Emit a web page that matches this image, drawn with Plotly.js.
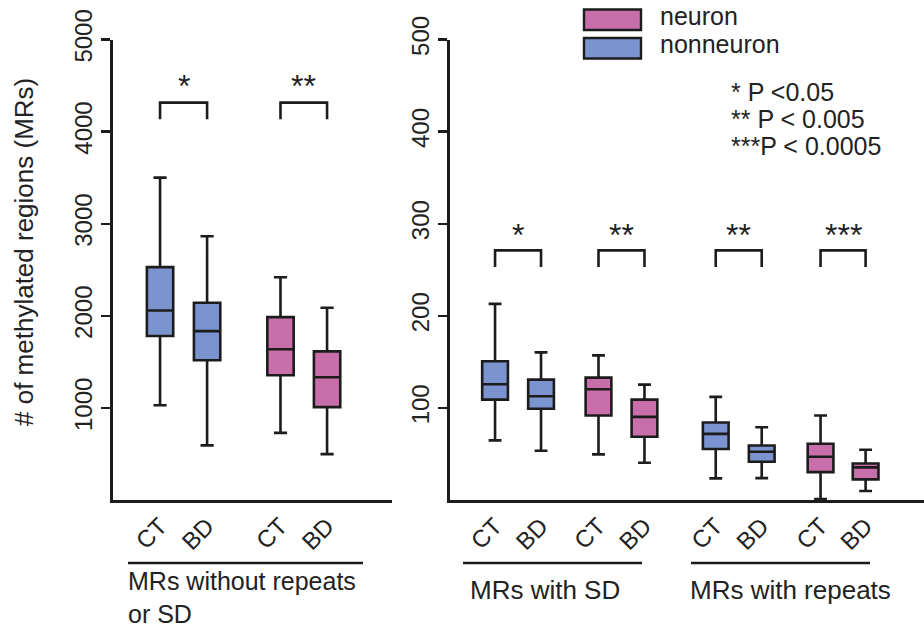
<!DOCTYPE html>
<html>
<head>
<meta charset="utf-8">
<script src="https://cdn.plot.ly/plotly-3.0.1.min.js"></script>
<style>html,body{margin:0;padding:0;background:#fff;} #chart{width:924px;height:632px;}</style>
</head>
<body>
<div id="chart"></div>
<script>
// ---------- data ----------
const leftTickLabels = ['CT', 'BD', 'CT', 'BD'];
const leftPos = [1, 2, 3.56, 4.55];
const leftNonPos = [1, 2];
const leftNeuPos = [3.56, 4.55];
const leftNonLower = [1029, 593];
const leftNonQ1 = [1780, 1517];
const leftNonMed = [2058, 1834];
const leftNonQ3 = [2528, 2142];
const leftNonUpper = [3500, 2863];
const leftNeuLower = [729, 498];
const leftNeuQ1 = [1354, 1008];
const leftNeuMed = [1636, 1333];
const leftNeuQ3 = [1986, 1614];
const leftNeuUpper = [2419, 2088];

const rightTickLabels = ['CT', 'BD', 'CT', 'BD', 'CT', 'BD', 'CT', 'BD'];
const rightPos = [1, 2, 3.25, 4.25, 5.8, 6.8, 8.08, 9.06];
const rightNonPos = [1, 2, 5.8, 6.8];
const rightNeuPos = [3.25, 4.25, 8.08, 9.06];
const rightNonLower = [64.7, 53.4, 23.5, 23.8];
const rightNonQ1 = [109, 99, 55.3, 41.5];
const rightNonMed = [125.7, 112.7, 71.8, 52.4];
const rightNonQ3 = [150.6, 130.7, 84.2, 59.2];
const rightNonUpper = [213, 160.3, 112, 79];
const rightNeuLower = [49.5, 40.4, 1, 9.8];
const rightNeuQ1 = [91.8, 68.6, 30.3, 22.4];
const rightNeuMed = [120.3, 90.3, 47, 35.4];
const rightNeuQ3 = [132.9, 109, 61, 39.7];
const rightNeuUpper = [157, 125.3, 91.7, 54.5];

const leftYTicks = [1000, 2000, 3000, 4000, 5000];
const rightYTicks = [100, 200, 300, 400, 500];

const leftSig = [{a: 1, b: 2, label: '*'}, {a: 3.56, b: 4.55, label: '**'}];
const rightSig = [{a: 1, b: 2, label: '*'}, {a: 3.25, b: 4.25, label: '**'},
                  {a: 5.8, b: 6.8, label: '**'}, {a: 8.08, b: 9.06, label: '***'}];

const legendNames = ['neuron', 'nonneuron'];
const pLegend = ['* P <0.05', '** P < 0.005', '***P < 0.0005'];
const groupLabels = ['MRs without repeats<br>or SD', 'MRs with SD', 'MRs with repeats'];
const yTitle = '# of methylated regions (MRs)';

// ---------- style ----------
const BLUE = '#7B94CF';
const PINK = '#C86FAB';
const INK = '#1c1c1c';
const TXT = '#222222';
const FONT = 'Liberation Sans, Arial, sans-serif';
const W = 924, H = 632;
const px = v => v / W;
const py = v => (H - v) / H;

function boxTrace(x, lo, q1, med, q3, hi, color, xa, ya) {
  return {
    type: 'box', x: x, lowerfence: lo, q1: q1, median: med, q3: q3, upperfence: hi,
    fillcolor: color, line: {color: INK, width: 2.6}, width: 0.56, whiskerwidth: 0.5,
    boxpoints: false, xaxis: xa, yaxis: ya, showlegend: false, hoverinfo: 'skip'
  };
}

const data = [
  boxTrace(leftNonPos, leftNonLower, leftNonQ1, leftNonMed, leftNonQ3, leftNonUpper, BLUE, 'x', 'y'),
  boxTrace(leftNeuPos, leftNeuLower, leftNeuQ1, leftNeuMed, leftNeuQ3, leftNeuUpper, PINK, 'x', 'y'),
  boxTrace(rightNonPos, rightNonLower, rightNonQ1, rightNonMed, rightNonQ3, rightNonUpper, BLUE, 'x2', 'y2'),
  boxTrace(rightNeuPos, rightNeuLower, rightNeuQ1, rightNeuMed, rightNeuQ3, rightNeuUpper, PINK, 'x2', 'y2')
];

const shapes = [];
const annotations = [];

function addSig(list, xref, yref, yTop, yLeg, yStar) {
  list.forEach(s => {
    shapes.push({type: 'path', xref: xref, yref: yref,
      path: `M ${s.a},${yLeg} L ${s.a},${yTop} L ${s.b},${yTop} L ${s.b},${yLeg}`,
      line: {color: INK, width: 2.6}});
    annotations.push({xref: xref, yref: yref, x: (s.a + s.b) / 2, y: yStar, text: s.label,
      showarrow: false, font: {family: FONT, size: 32, color: TXT}, xanchor: 'center', yanchor: 'middle'});
  });
}
addSig(leftSig, 'x', 'y', 4315, 4135, 4500);
addSig(rightSig, 'x2', 'y2', 271, 253, 288);

// group underlines
shapes.push({type: 'line', xref: 'paper', yref: 'paper', x0: px(128), x1: px(363), y0: py(563), y1: py(563), line: {color: INK, width: 2.6}});
shapes.push({type: 'line', xref: 'paper', yref: 'paper', x0: px(463), x1: px(642), y0: py(563), y1: py(563), line: {color: INK, width: 2.6}});
shapes.push({type: 'line', xref: 'paper', yref: 'paper', x0: px(691), x1: px(870), y0: py(563), y1: py(563), line: {color: INK, width: 2.6}});

const gFont = {family: FONT, size: 26, color: TXT};
annotations.push({xref: 'paper', yref: 'paper', x: px(126), y: py(565), text: groupLabels[0], showarrow: false, xanchor: 'left', yanchor: 'top', align: 'left',
  font: {family: FONT, size: 25, color: TXT}});
annotations.push({xref: 'paper', yref: 'paper', x: px(468), y: py(590), text: groupLabels[1], showarrow: false, xanchor: 'left', yanchor: 'middle', font: gFont});
annotations.push({xref: 'paper', yref: 'paper', x: px(688), y: py(590), text: groupLabels[2], showarrow: false, xanchor: 'left', yanchor: 'middle', font: gFont});

// y title
annotations.push({xref: 'paper', yref: 'paper', x: px(24), y: py(252), text: yTitle, textangle: -90, showarrow: false,
  xanchor: 'center', yanchor: 'middle', font: {family: FONT, size: 26, color: TXT}});

// legend
[PINK, BLUE].forEach((c, i) => {
  const top = i === 0 ? 9.5 : 38;
  shapes.push({type: 'rect', xref: 'paper', yref: 'paper', x0: px(584), x1: px(641), y0: py(top), y1: py(top + 20.5),
    fillcolor: c, line: {color: INK, width: 2.4}});
  annotations.push({xref: 'paper', yref: 'paper', x: px(658), y: py(i === 0 ? 15.5 : 44), text: legendNames[i], showarrow: false,
    xanchor: 'left', yanchor: 'middle', font: {family: FONT, size: 25, color: TXT}});
});

// p-value legend
pLegend.forEach((t, i) => {
  annotations.push({xref: 'paper', yref: 'paper', x: px(729), y: py(91.5 + i * 27), text: t, showarrow: false,
    xanchor: 'left', yanchor: 'middle', font: {family: FONT, size: 25, color: TXT}});
});

const tickFont = {family: FONT, size: 24, color: TXT};
const xCommon = {showline: true, linecolor: INK, linewidth: 2.6, ticks: '', showgrid: false, zeroline: false,
  tickangle: -45, tickfont: tickFont, fixedrange: true};
const yCommon = {showline: true, linecolor: INK, linewidth: 2.6, ticks: 'outside', ticklen: 9, tickwidth: 2.4, tickcolor: INK,
  showgrid: false, zeroline: false, tickangle: -90, tickfont: tickFont, fixedrange: true};

const layout = {
  width: W, height: H, margin: {l: 0, r: 0, t: 0, b: 0}, paper_bgcolor: '#fff', plot_bgcolor: '#fff',
  boxmode: 'overlay', showlegend: false,
  xaxis: Object.assign({}, xCommon, {domain: [px(113), px(392)], range: [0, 5.93], tickvals: leftPos, ticktext: leftTickLabels, anchor: 'y'}),
  yaxis: Object.assign({}, yCommon, {domain: [py(500), py(39.5)], range: [0, 5000], tickvals: leftYTicks, anchor: 'x'}),
  xaxis2: Object.assign({}, xCommon, {domain: [px(450), 1], range: [0.02, 10.33], tickvals: rightPos, ticktext: rightTickLabels, anchor: 'y2'}),
  yaxis2: Object.assign({}, yCommon, {domain: [py(500), py(39.5)], range: [0, 500], tickvals: rightYTicks, anchor: 'x2'}),
  shapes: shapes, annotations: annotations
};

Plotly.newPlot('chart', data, layout, {displayModeBar: false, staticPlot: true});
</script>
</body>
</html>
